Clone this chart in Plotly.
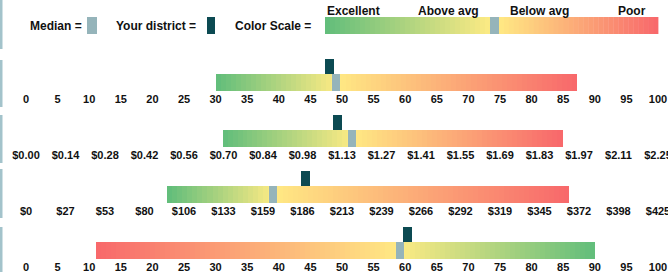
import numpy as np
import plotly.graph_objects as go

# ---------------- data ----------------
row_names = ["Metric A", "Metric B", "Metric C", "Metric D"]
bar_start = [30, 0.70, 95, 11]
bar_end = [87.2, 1.91, 365, 90]
median_val = [49, 1.16, 166, 59.2]
district_val = [48, 1.11, 188, 60.4]
axis_max = [100, 2.25, 425, 100]
higher_is_better = [False, False, False, True]

ticks_pct = ["0", "5", "10", "15", "20", "25", "30", "35", "40", "45", "50",
             "55", "60", "65", "70", "75", "80", "85", "90", "95", "100"]
ticks_cost = ["$0.00", "$0.14", "$0.28", "$0.42", "$0.56", "$0.70", "$0.84", "$0.98",
              "$1.13", "$1.27", "$1.41", "$1.55", "$1.69", "$1.83", "$1.97", "$2.11", "$2.25"]
ticks_dollar = ["$0", "$27", "$53", "$80", "$106", "$133", "$159", "$186", "$213",
                "$239", "$266", "$292", "$319", "$345", "$372", "$398", "$425"]
tick_labels = [ticks_pct, ticks_cost, ticks_dollar, ticks_pct]

scale_labels = ["Excellent", "Above avg", "Below avg", "Poor"]

# ---------------- style ----------------
W, H = 668, 272
X0_PX, X1_PX = 26, 658
GREEN = (99, 190, 123)
YELLOW = (255, 235, 132)
RED = (248, 105, 107)
MEDIAN_COLOR = "#95b4ba"
DISTRICT_COLOR = "#0c4a52"
TEXT_COLOR = "#111111"
FONT = "Liberation Sans, Arial, sans-serif"
BAR_H = 17
MARK_H = 15
MED_W_PX = 8
DIST_W_PX = 9
STRIPE_PX = 5
bar_tops = [74, 130, 186, 242]


def mix(c1, c2, t):
    return "rgb(%d,%d,%d)" % tuple(round(a + (b - a) * t) for a, b in zip(c1, c2))


def stripes(a, b, c_from, c_to, n, last_full=False):
    edges = np.linspace(a, b, n + 1)
    starts = edges[:-1]
    widths = np.diff(edges)
    if last_full:
        ts = [(i + 1) / n for i in range(n)]
    else:
        ts = [i / n for i in range(n)]
    cols = [mix(c_from, c_to, t) for t in ts]
    return starts, widths, cols


fig = go.Figure()
layout = dict()
px_span = (X1_PX - X0_PX)

for i in range(4):
    k = i + 1
    xa = "x" if k == 1 else "x%d" % k
    ya = "y" if k == 1 else "y%d" % k
    m = axis_max[i]
    upp = m / px_span  # data units per pixel
    lo_c, hi_c = (RED, GREEN) if higher_is_better[i] else (GREEN, RED)

    n1 = max(1, round((median_val[i] - bar_start[i]) / upp / STRIPE_PX))
    s1, w1, c1 = stripes(bar_start[i], median_val[i], lo_c, YELLOW, n1)
    n2 = max(1, round((bar_end[i] - median_val[i]) / upp / STRIPE_PX))
    s2, w2, c2 = stripes(median_val[i], bar_end[i], YELLOW, hi_c, n2, last_full=True)
    starts = list(s1) + list(s2)
    widths = list(w1) + list(w2)
    cols = c1 + c2
    fig.add_trace(go.Bar(orientation="h", y=[BAR_H / 2] * len(starts), x=widths, base=starts,
                         width=BAR_H, marker=dict(color=cols, line=dict(width=0)),
                         xaxis=xa, yaxis=ya, hoverinfo="skip", showlegend=False))
    # median box
    mw = MED_W_PX * upp
    fig.add_trace(go.Bar(orientation="h", y=[BAR_H / 2], x=[mw], base=[median_val[i] - mw / 2],
                         width=BAR_H, marker=dict(color=MEDIAN_COLOR, line=dict(width=0)),
                         xaxis=xa, yaxis=ya, hoverinfo="skip", showlegend=False))
    # district marker
    dw = DIST_W_PX * upp
    fig.add_trace(go.Bar(orientation="h", y=[BAR_H + MARK_H / 2], x=[dw], base=[district_val[i] - dw / 2],
                         width=MARK_H, marker=dict(color=DISTRICT_COLOR, line=dict(width=0)),
                         xaxis=xa, yaxis=ya, hoverinfo="skip", showlegend=False))

    labels = tick_labels[i]
    tv = list(np.linspace(0, m, len(labels)))
    top_px = bar_tops[i] - MARK_H
    bot_px = bar_tops[i] + BAR_H
    xkey = "xaxis" if k == 1 else "xaxis%d" % k
    ykey = "yaxis" if k == 1 else "yaxis%d" % k
    layout[xkey] = dict(domain=[X0_PX / W, X1_PX / W], range=[0, m], anchor=ya,
                        tickvals=tv, ticktext=labels, showgrid=False, zeroline=False,
                        showline=False, ticks="", automargin=False, ticklabeloverflow="allow",
                        tickfont=dict(family=FONT, size=11, color=TEXT_COLOR, weight="bold"),
                        fixedrange=True)
    layout[ykey] = dict(domain=[1 - bot_px / H, 1 - top_px / H], range=[0, BAR_H + MARK_H],
                        visible=False, anchor=xa, fixedrange=True)

shapes = []
annotations = []


def px_x(p):
    return p / W


def px_y(p):
    return 1 - p / H


# left border segments
for y0, y1 in [(0, 49), (60, 107), (115, 163), (169, 218), (227, 272)]:
    shapes.append(dict(type="rect", xref="paper", yref="paper", x0=0, x1=px_x(2.5),
                       y0=px_y(y1), y1=px_y(y0), fillcolor="#a3c3cb", line=dict(width=0)))

# header legend
hdr_font = dict(family=FONT, size=12, color=TEXT_COLOR, weight="bold")
for txt, x in [("Median =", 28), ("Your district =", 114), ("Color Scale =", 233)]:
    annotations.append(dict(text=txt, x=px_x(x), y=px_y(25.5), xref="paper", yref="paper",
                            xanchor="left", yanchor="middle", showarrow=False, font=hdr_font))
shapes.append(dict(type="rect", xref="paper", yref="paper", x0=px_x(87), x1=px_x(97),
                   y0=px_y(34), y1=px_y(17), fillcolor=MEDIAN_COLOR, line=dict(width=0)))
shapes.append(dict(type="rect", xref="paper", yref="paper", x0=px_x(207), x1=px_x(215),
                   y0=px_y(34), y1=px_y(17), fillcolor=DISTRICT_COLOR, line=dict(width=0)))

# header gradient
n = round((490 - 325) / STRIPE_PX)
s, w, c = stripes(325, 490, GREEN, YELLOW, n)
for a, b, col in zip(s, w, c):
    shapes.append(dict(type="rect", xref="paper", yref="paper", x0=px_x(a), x1=px_x(a + b + 0.4),
                       y0=px_y(34), y1=px_y(17), fillcolor=col, line=dict(width=0)))
n = round((658 - 499) / STRIPE_PX)
s, w, c = stripes(499, 658, YELLOW, RED, n, last_full=True)
for a, b, col in zip(s, w, c):
    shapes.append(dict(type="rect", xref="paper", yref="paper", x0=px_x(a), x1=px_x(a + b + 0.4),
                       y0=px_y(34), y1=px_y(17), fillcolor=col, line=dict(width=0)))
shapes.append(dict(type="rect", xref="paper", yref="paper", x0=px_x(490), x1=px_x(499),
                   y0=px_y(34), y1=px_y(17), fillcolor=MEDIAN_COLOR, line=dict(width=0)))
for txt, x in zip(scale_labels, [353, 448, 539, 631.5]):
    annotations.append(dict(text=txt, x=px_x(x), y=px_y(11), xref="paper", yref="paper",
                            xanchor="center", yanchor="middle", showarrow=False, font=hdr_font))

fig.update_layout(width=W, height=H, margin=dict(l=0, r=0, t=0, b=0),
                  paper_bgcolor="white", plot_bgcolor="white", barmode="overlay",
                  bargap=0, showlegend=False, shapes=shapes, annotations=annotations,
                  **layout)
fig.write_html("out.html", config={"displayModeBar": False},
               post_script="document.body.style.margin='0';document.body.style.overflow='hidden';")
